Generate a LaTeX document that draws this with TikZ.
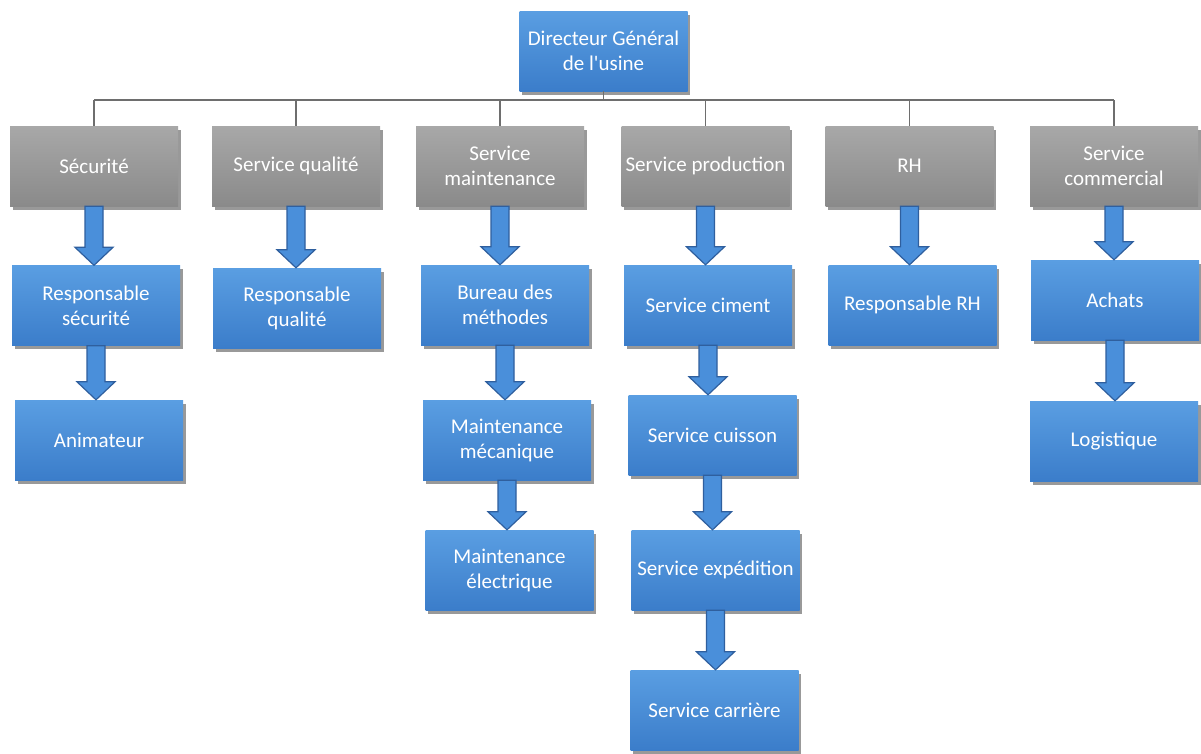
\documentclass[tikz,border=0pt]{standalone}
\usepackage{fontspec}
\setmainfont{Carlito}
\usetikzlibrary{calc,shadows}
\definecolor{bluetop}{HTML}{5A9EE2}
\definecolor{bluebot}{HTML}{3B7DCA}
\definecolor{greytop}{HTML}{A8A8A8}
\definecolor{greybot}{HTML}{8A8A8A}
\definecolor{linegrey}{HTML}{6E6E6E}
\definecolor{arrowfill}{HTML}{4A8FDA}
\definecolor{arrowedge}{HTML}{2F5F9E}
\tikzset{
  box/.style={minimum width=168pt, minimum height=80pt, inner sep=0pt, align=center,
    text=white, font=\fontsize{21}{25}\selectfont,
    drop shadow={shadow xshift=2.5pt, shadow yshift=-3.5pt, opacity=0.4, fill=black}},
  bbox/.style={box, top color=bluetop, bottom color=bluebot},
  gbox/.style={box, top color=greytop, bottom color=greybot},
  tline/.style={draw=linegrey, line width=1.5pt},
  barrow/.style={fill=arrowfill, draw=arrowedge, line width=1.2pt, line join=miter}
}
\newcommand{\blockarr}[2]{%
  \path[barrow] let \p1=(#1.south), \p2=(#2.north) in
    (\x1-9pt,\y1) -- (\x1+9pt,\y1) -- (\x1+9pt,\y2+18pt) -- (\x1+19pt,\y2+18pt)
    -- (\x1,\y2) -- (\x1-19pt,\y2+18pt) -- (\x1-9pt,\y2+18pt) -- cycle;}
\begin{document}
\begin{tikzpicture}[x=1pt,y=-1pt]
\fill[white] (0,0) rectangle (1201,753);
\useasboundingbox (0,0) rectangle (1201,753);
% top
\node[bbox] (dir) at (603.5,51) {Directeur Général\\de l\textquotesingle usine};
% grey level
\node[gbox] (secu)  at (94,166)   {Sécurité};
\node[gbox] (qual)  at (296,166)  {Service qualité};
\node[gbox] (maint) at (500,166)  {Service\\maintenance};
\node[gbox] (prod)  at (705.5,166){Service production};
\node[gbox] (rh)    at (909.5,166){RH};
\node[gbox] (comm)  at (1114,166) {Service\\commercial};
% level 1
\node[bbox] (rsecu)  at (96,305.5) {Responsable\\sécurité};
\node[bbox] (rqual)  at (297,308)  {Responsable\\qualité};
\node[bbox] (bureau) at (505,305)  {Bureau des\\méthodes};
\node[bbox] (ciment) at (708,305)  {Service ciment};
\node[bbox] (rrh)    at (912.5,305){Responsable RH};
\node[bbox] (achats) at (1115,300) {Achats};
% level 2
\node[bbox] (anim)    at (99,440)    {Animateur};
\node[bbox] (meca)    at (507,440)   {Maintenance\\mécanique};
\node[bbox] (cuisson) at (712.5,435) {Service cuisson};
\node[bbox] (logist)  at (1114,441)  {Logistique};
% level 3
\node[bbox] (elec)  at (509.5,570) {Maintenance\\électrique};
\node[bbox] (exped) at (715.5,570) {Service expédition};
% level 4
\node[bbox] (carr) at (714.5,710) {Service carrière};
% tree lines
\coordinate (bus) at (603.5,100);
\draw[tline] (dir.south) -- (dir.south |- bus);
\draw[tline] (secu.north |- bus) -- (comm.north |- bus);
\foreach \g in {secu,qual,maint,prod,rh,comm}{
  \draw[tline] (\g.north) -- (\g.north |- bus);
}
% block arrows
\blockarr{secu}{rsecu}
\blockarr{rsecu}{anim}
\blockarr{qual}{rqual}
\blockarr{maint}{bureau}
\blockarr{bureau}{meca}
\blockarr{meca}{elec}
\blockarr{prod}{ciment}
\blockarr{ciment}{cuisson}
\blockarr{cuisson}{exped}
\blockarr{exped}{carr}
\blockarr{rh}{rrh}
\blockarr{comm}{achats}
\blockarr{achats}{logist}
\end{tikzpicture}
\end{document}
